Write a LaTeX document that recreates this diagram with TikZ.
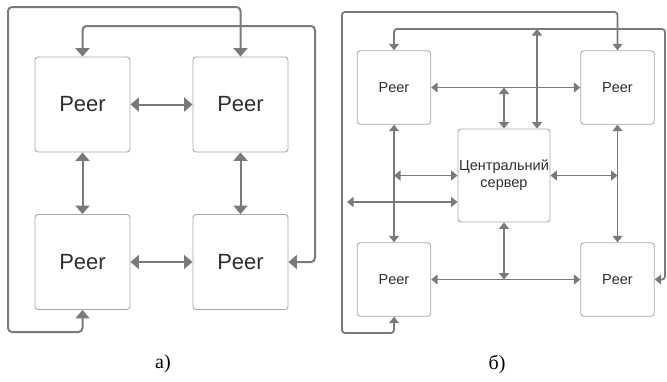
\documentclass[tikz,border=0pt]{standalone}
\usepackage{fontspec}
\setmainfont{Liberation Serif}
\setsansfont{Liberation Sans}
\usetikzlibrary{arrows.meta}
\definecolor{linegray}{HTML}{7A7A7A}
\definecolor{boxgray}{HTML}{A8A8A8}
\definecolor{textgray}{HTML}{2E2E2E}
\begin{document}
\begin{tikzpicture}[x=1pt, y=-1pt,
        peer/.style={draw=boxgray, line width=0.9pt, rounded corners=3pt, inner sep=0pt, font=\sffamily, text=textgray},
        big/.style={peer, minimum size=95pt, font=\sffamily\fontsize{22}{26}\selectfont},
        small/.style={peer, minimum size=73.5pt, font=\sffamily\fontsize{14.5}{17}\selectfont},
        link/.style={draw=linegray, line width=2pt, rounded corners=4pt, {Triangle[length=8.5pt,width=14pt]}-{Triangle[length=8.5pt,width=14pt]}},
        thin/.style={draw=linegray, line width=1.8pt, rounded corners=3pt, {Triangle[length=6.5pt,width=10pt]}-{Triangle[length=6.5pt,width=10pt]}}]
        \useasboundingbox (0,0) rectangle (667,381);
        \node[big] (a1) at (82.5, 104.5) {Peer};
        \node[big] (a2) at (240.5, 104.5) {Peer};
        \node[big] (a3) at (82.5, 262) {Peer};
        \node[big] (a4) at (240.5, 262) {Peer};
        \coordinate (la) at (8, 332);
        \coordinate (lb) at (8, 7);
        \coordinate (ra) at (315, 26);
        \draw[link] (a1) -- (a2);
        \draw[link] (a3) -- (a4);
        \draw[link] (a1) -- (a3);
        \draw[link] (a2) -- (a4);
        \draw[link] (a3.south) |- (la) -- (lb) -| (a2.north);
        \draw[link] (a1.north) |- (ra) |- (a4.east);
        \node[small] (b1) at (394, 87.5) {Peer};
        \node[small] (b2) at (617.5, 87.5) {Peer};
        \node[small] (b3) at (394, 279.5) {Peer};
        \node[small] (b4) at (617.5, 279.5) {Peer};
        \node[peer, minimum width=92pt, minimum height=93pt, align=center, font=\sffamily\fontsize{14.5}{17}\selectfont] (srv) at (504, 175.5) {Центральний\\сервер};
        \coordinate (t1) at (537, 29);
        \coordinate (t2) at (665, 29);
        \coordinate (w) at (347, 202);
        \coordinate (o1) at (342, 333);
        \coordinate (o2) at (342, 12);
        \draw[thin] (b1) -- (b2);
        \draw[thin] (b3) -- (b4);
        \draw[thin] (b1) -- (b3);
        \draw[thin] (b2) -- (b4);
        \draw[thin] (srv.north) -- (srv.north |- b1.east);
        \draw[thin] (srv.south) -- (srv.south |- b3.east);
        \draw[thin] (srv.west) -- (srv.west -| b1.south);
        \draw[thin] (srv.east) -- (srv.east -| b2.south);
        \draw[thin] (w) -- (w -| srv.west);
        \draw[thin] (t1) -- (t1 |- srv.north);
        \draw[thin] (b1.north) |- (t2) |- (b4.east);
        \draw[thin] (b3.south) |- (o1) -- (o2) -| (b2.north);
        \node[font=\fontsize{20}{24}\selectfont] (capa) at (163, 364) {а)};
        \node[font=\fontsize{20}{24}\selectfont] (capb) at (497, 364) {б)};
    \end{tikzpicture}
\end{document}
